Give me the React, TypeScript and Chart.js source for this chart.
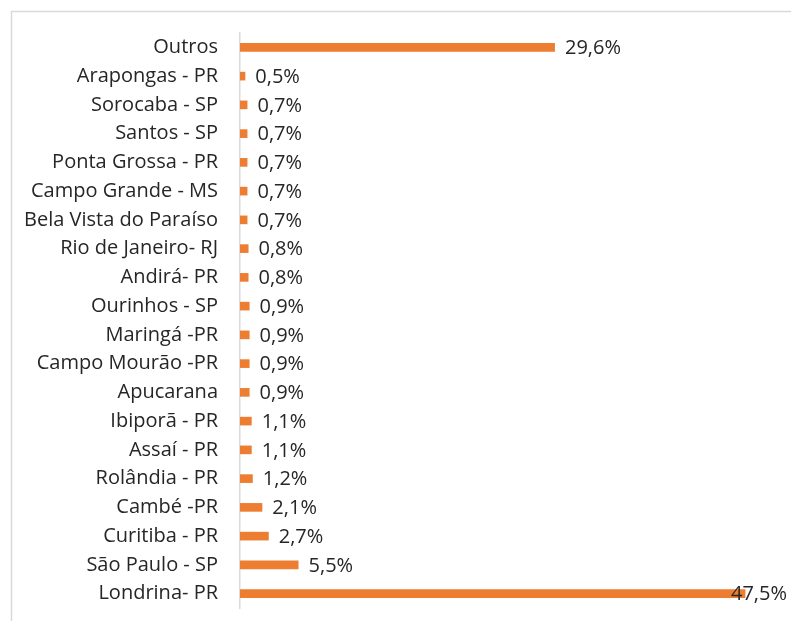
import React, { useEffect, useRef } from "react";
import { Chart, registerables } from "chart.js";

Chart.register(...registerables);

const categories = [
  "Outros",
  "Arapongas - PR",
  "Sorocaba - SP",
  "Santos - SP",
  "Ponta Grossa - PR",
  "Campo Grande - MS",
  "Bela Vista do Paraíso",
  "Rio de Janeiro- RJ",
  "Andirá- PR",
  "Ourinhos - SP",
  "Maringá -PR",
  "Campo Mourão -PR",
  "Apucarana",
  "Ibiporã - PR",
  "Assaí - PR",
  "Rolândia - PR",
  "Cambé -PR",
  "Curitiba - PR",
  "São Paulo - SP",
  "Londrina- PR",
];

const values = [29.6, 0.5, 0.7, 0.7, 0.7, 0.7, 0.7, 0.8, 0.8, 0.9, 0.9, 0.9, 0.9, 1.1, 1.1, 1.2, 2.1, 2.7, 5.5, 47.5];

const xMin = 0;
const xMax = 50;

const FONT = "'Open Sans', sans-serif";
const FONT_SIZE = 20;
const TEXT_COLOR = "#262626";
const BAR_COLOR = "#ED7D31";

const fmt = (v: number) => v.toFixed(1).replace(".", ",") + "%";

const framePlugin = {
  id: "frame",
  beforeDraw(chart: any) {
    const ctx = chart.ctx;
    ctx.save();
    ctx.fillStyle = "#ffffff";
    ctx.fillRect(0, 0, chart.width, chart.height);
    ctx.strokeStyle = "#d9d9d9";
    ctx.lineWidth = 1.5;
    ctx.strokeRect(11.5, 11.5, chart.width + 20, chart.height + 20);
    ctx.restore();
  },
};

const labelPlugin = {
  id: "barLabels",
  afterDatasetsDraw(chart: any) {
    const ctx = chart.ctx;
    const meta = chart.getDatasetMeta(0);
    ctx.save();
    ctx.font = `${FONT_SIZE}px ${FONT}`;
    ctx.fillStyle = TEXT_COLOR;
    ctx.textBaseline = "middle";
    ctx.textAlign = "left";
    meta.data.forEach((el: any, i: number) => {
      const text = fmt(values[i]);
      const w = ctx.measureText(text).width;
      let x = el.x + 10;
      if (x + w > chart.width - 4) x = chart.width - 4 - w;
      ctx.fillText(text, x, el.y + 1);
    });
    ctx.restore();
  },
};

export default function App() {
  const ref = useRef<HTMLCanvasElement | null>(null);
  useEffect(() => {
    if (!ref.current) return;
    const chart = new Chart(ref.current, {
      type: "bar",
      data: {
        labels: categories,
        datasets: [
          {
            data: values,
            backgroundColor: BAR_COLOR,
            borderWidth: 0,
            barPercentage: 0.6,
            categoryPercentage: 0.5,
          },
        ],
      },
      options: {
        indexAxis: "y",
        animation: false,
        responsive: false,
        maintainAspectRatio: false,
        layout: { padding: { top: 33, right: 19, bottom: 13, left: 0 } },
        plugins: {
          legend: { display: false },
          tooltip: { enabled: false },
        },
        scales: {
          x: {
            display: false,
            min: xMin,
            max: xMax,
          },
          y: {
            grid: { display: false, drawTicks: false },
            border: { display: true, color: "#d9d9d9", width: 1.5 },
            ticks: {
              padding: 22,
              color: TEXT_COLOR,
              font: { family: FONT, size: FONT_SIZE },
            },
            afterFit(scale: any) {
              scale.width = 240;
              scale.paddingTop = 0;
              scale.paddingBottom = 0;
            },
          },
        },
      },
      plugins: [framePlugin, labelPlugin],
    });
    return () => chart.destroy();
  }, []);
  return (
    <div style={{ position: "fixed", left: 0, top: 0, width: 791, height: 621 }}>
      <canvas ref={ref} width={791} height={621} style={{ display: "block" }} />
    </div>
  );
}
